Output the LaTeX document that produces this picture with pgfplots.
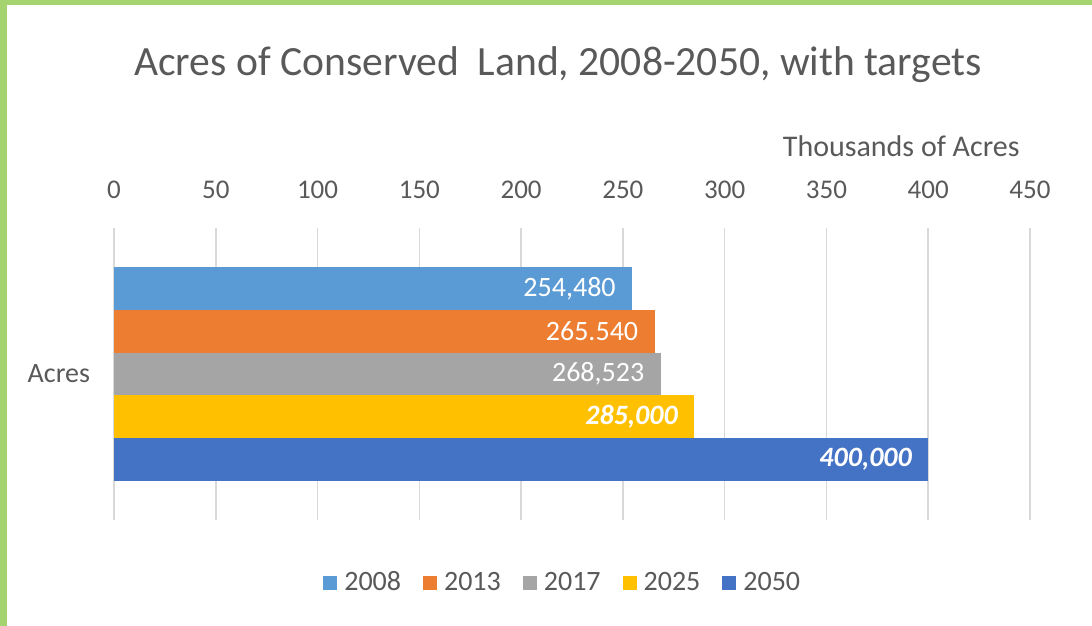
\documentclass[border=0pt]{standalone}
\usepackage{pgfplots}
\pgfplotsset{compat=1.18}
\usepackage{fontspec}
\setmainfont{Carlito}
\definecolor{c08}{HTML}{5B9BD5}
\definecolor{c13}{HTML}{ED7D31}
\definecolor{c17}{HTML}{A5A5A5}
\definecolor{c25}{HTML}{FFC000}
\definecolor{c50}{HTML}{4472C4}
\definecolor{txt}{HTML}{595959}
\definecolor{gridc}{HTML}{D9D9D9}
\definecolor{frame}{HTML}{A5D36F}
\begin{document}
\begin{tikzpicture}
\useasboundingbox (0pt,0pt) rectangle (546pt,-313pt);
\fill[frame] (0pt,0pt) rectangle (546pt,-2.5pt);
\fill[frame] (0pt,0pt) rectangle (3.5pt,-313pt);
\begin{axis}[
  at={(57pt,-260pt)}, anchor=south west,
  scale only axis, width=458pt, height=146pt,
  xbar, bar shift=0pt, bar width=1,
  xmin=0, xmax=450, ymin=-0.41, ymax=6.41, y dir=reverse,
  xtick={0,50,...,450}, xticklabel pos=upper,
  ytick={3}, yticklabels={Acres},
  axis line style={draw=none}, tick style={draw=none},
  xmajorgrids, major grid style={gridc, line width=0.8pt},
  /pgf/number format/assume math mode=true,
  xticklabel style={font=\fontsize{13.5}{16}\selectfont, text=txt, inner sep=0pt, anchor=south, yshift=14.5pt},
  yticklabel style={font=\fontsize{14}{16}\selectfont, text=txt, inner sep=0pt, anchor=east, xshift=-7.5pt},
  nodes near coords align={anchor=east},
  every node near coord/.append style={text=white, inner sep=0pt, xshift=-8pt, font=\fontsize{14}{16}\selectfont},
  legend style={at={(0.491,-0.215)}, anchor=center, draw=none, legend columns=5,
    font=\fontsize{14}{16}\selectfont, text=txt,
    /tikz/every even column/.append style={column sep=9pt},
    /tikz/every odd column/.append style={column sep=1.5pt}},
  legend image code/.code={\fill[#1] (0pt,-3.5pt) rectangle (7pt,3.5pt);},
]
\addplot[fill=c08, draw=none, nodes near coords={254,480}] coordinates {(254.48,1)};
\addplot[fill=c13, draw=none, nodes near coords={265.540}] coordinates {(265.54,2)};
\addplot[fill=c17, draw=none, nodes near coords={268,523}] coordinates {(268.523,3)};
\addplot[fill=c25, draw=none, nodes near coords={\bfseries\itshape 285,000}] coordinates {(285,4)};
\addplot[fill=c50, draw=none, nodes near coords={\bfseries\itshape 400,000}] coordinates {(400,5)};
\legend{2008,2013,2017,2025,2050}
\end{axis}
\node[anchor=base, text=txt, font=\fontsize{20.8}{25}\selectfont, inner sep=0pt] at (279pt,-38pt) {Acres of Conserved~ Land, 2008-2050, with targets};
\node[anchor=base east, text=txt, font=\fontsize{15}{18}\selectfont, inner sep=0pt] at (510pt,-78pt) {Thousands of Acres};
\end{tikzpicture}
\end{document}
